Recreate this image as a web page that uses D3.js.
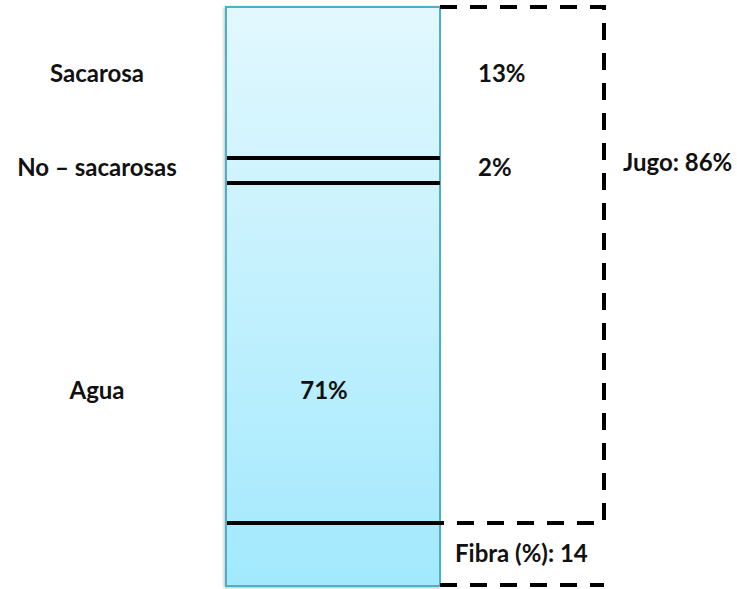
<!DOCTYPE html>
<html>
<head>
<meta charset="utf-8">
<script src="https://cdn.jsdelivr.net/npm/d3@7"></script>
<style>
  body { margin: 0; background: #fff; }
  text { font-family: Lato, "Open Sans", sans-serif; font-weight: bold; fill: #111; }
</style>
</head>
<body>
<script>
const svgWidth = 737,
    svgHeight = 589;

// composition of the cane (percent)
var components = ["Sacarosa", "No – sacarosas", "Agua", "Fibra (%)"];
var values = [13, 2, 71, 14];
var valueLabels = ["13%", "2%", "71%", "14"];
var juiceLabel = "Jugo: 86%";

// cumulative boundaries
var bounds = [0];
values.forEach(function (v, i) { bounds.push(bounds[i] + v); });

// the drawing is not to scale, so y is a piecewise scale on the boundaries
var y = d3.scaleLinear()
    .domain(bounds)
    .range([7, 158, 183, 523, 586]);

var x0 = 226, x1 = 440, xBracket = 604,
    fontSize = 24;

var svg = d3.select("body").append("svg")
    .attr("width", svgWidth)
    .attr("height", svgHeight);

var defs = svg.append("defs");
var grad = defs.append("linearGradient")
    .attr("id", "fill")
    .attr("x1", 0).attr("y1", 0).attr("x2", 0).attr("y2", 1);
grad.append("stop").attr("offset", "0%").attr("stop-color", "#e2f8fe");
grad.append("stop").attr("offset", "100%").attr("stop-color", "#a2e9fd");

var shadow = defs.append("filter").attr("id", "shadow")
    .attr("x", "-10%").attr("y", "-5%").attr("width", "120%").attr("height", "110%");
shadow.append("feDropShadow")
    .attr("dx", -1).attr("dy", 1).attr("stdDeviation", 1.5)
    .attr("flood-color", "#000").attr("flood-opacity", 0.25);

// the cane column
svg.append("rect")
    .attr("x", x0)
    .attr("y", y(0))
    .attr("width", x1 - x0)
    .attr("height", y(100) - y(0))
    .attr("fill", "url(#fill)")
    .attr("stroke", "#4cb0c8")
    .attr("stroke-width", 2)
    .attr("filter", "url(#shadow)");

// dividing lines between components
svg.selectAll(".divider")
    .data(bounds.slice(1, -1))
    .enter().append("line")
    .attr("class", "divider")
    .attr("x1", x0 + 1)
    .attr("x2", x1)
    .attr("y1", function (d) { return y(d); })
    .attr("y2", function (d) { return y(d); })
    .attr("stroke", "#000")
    .attr("stroke-width", 4);

// dashed bracket for the juice and fibre
var juiceEnd = bounds[3];
svg.append("path")
    .attr("d", "M" + x1 + "," + y(0) + "H" + xBracket + "V" + y(juiceEnd) + "H" + x1)
    .attr("fill", "none")
    .attr("stroke", "#000")
    .attr("stroke-width", 4)
    .attr("stroke-dasharray", "17,13");

svg.append("line")
    .attr("x1", x1).attr("x2", xBracket)
    .attr("y1", y(100) - 1).attr("y2", y(100) - 1)
    .attr("stroke", "#000")
    .attr("stroke-width", 4)
    .attr("stroke-dasharray", "17,13");

// left names
var nameY = [82, 176, 399];
svg.selectAll(".name")
    .data(components.slice(0, 3))
    .enter().append("text")
    .attr("class", "name")
    .attr("x", 97)
    .attr("y", function (d, i) { return nameY[i]; })
    .attr("text-anchor", "middle")
    .attr("font-size", fontSize)
    .text(function (d) { return d; });

// values
svg.append("text").attr("x", 478).attr("y", 82).attr("font-size", fontSize).text(valueLabels[0]);
svg.append("text").attr("x", 478).attr("y", 176).attr("font-size", fontSize).text(valueLabels[1]);
svg.append("text").attr("x", 324).attr("y", 399).attr("text-anchor", "middle").attr("font-size", fontSize).text(valueLabels[2]);
svg.append("text").attr("x", 623).attr("y", 171).attr("font-size", fontSize).text(juiceLabel);
svg.append("text").attr("x", 455).attr("y", 562).attr("font-size", fontSize).text(components[3] + ": " + valueLabels[3]);
</script>
</body>
</html>
